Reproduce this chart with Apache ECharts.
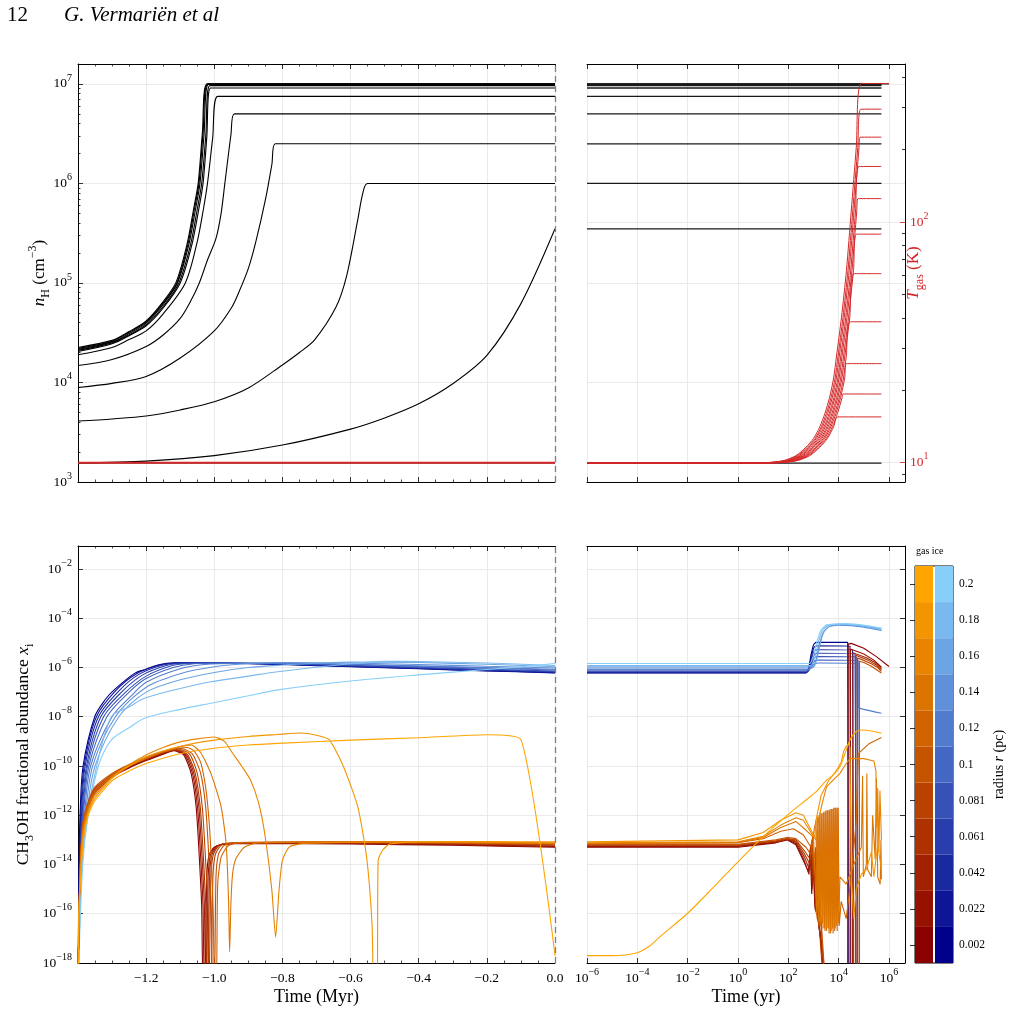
<!DOCTYPE html>
<html>
<head>
<meta charset="utf-8">
<script src="https://cdn.jsdelivr.net/npm/echarts@6/dist/echarts.min.js"></script>
<style>
  html, body { margin: 0; padding: 0; background: #fff; }
  #chart { width: 1012px; height: 1010px; }
</style>
</head>
<body>
<div id="chart"></div>
<script>
// ---- data ----
const radiusLabels = ['0.002', '0.022', '0.042', '0.061', '0.081', '0.1', '0.12', '0.14', '0.16', '0.18', '0.2'];
const gasColors = ['#8B0000', '#971100', '#A22100', '#AE3200', '#B94200', '#C55300', '#D16300', '#DC7400', '#E88400', '#F39500', '#FFA500'];
const iceColors = ['#00008B', '#0E1596', '#1B29A1', '#293EAC', '#3652B7', '#4467C3', '#517CCE', '#5F90D9', '#6CA5E4', '#7AB9EF', '#87CEFA'];

const myrTicks = [-1.2, -1.0, -0.8, -0.6, -0.4, -0.2, 0.0];
const yrTicks = [1e-6, 1e-4, 1e-2, 1, 1e2, 1e4, 1e6];
const nhTicks = [1e3, 1e4, 1e5, 1e6, 1e7];
const tempTicks = [10, 100];
const tempMinorTicks = [9, 20, 30, 40, 50, 60, 70, 80, 90, 200, 300, 400];
const abundTicks = [1e-18, 1e-16, 1e-14, 1e-12, 1e-10, 1e-8, 1e-6, 1e-4, 1e-2];

// density during collapse: [time (Myr), n_H (cm^-3)], one list per radius
const nhCollapse = [
  [[-1.4,2.25e4],[-1.3,2.65e4],[-1.25,3.25e4],[-1.2,4.15e4],[-1.15,6.5e4],[-1.112,1.02e5],[-1.08,2.45e5],[-1.06,5.7e5],[-1.047,1.02e6],[-1.035,3.2e6],[-1.021,1.0e7],[0,1.0e7]],
  [[-1.4,2.2e4],[-1.3,2.6e4],[-1.25,3.2e4],[-1.2,4.05e4],[-1.15,6.3e4],[-1.11,1.0e5],[-1.078,2.4e5],[-1.058,5.6e5],[-1.045,1.0e6],[-1.033,3.2e6],[-1.019,1.0e7],[0,1.0e7]],
  [[-1.4,2.15e4],[-1.3,2.55e4],[-1.25,3.1e4],[-1.2,3.95e4],[-1.15,6.1e4],[-1.108,1.0e5],[-1.075,2.4e5],[-1.055,5.5e5],[-1.042,1.0e6],[-1.03,3.1e6],[-1.017,9.9e6],[0,9.9e6]],
  [[-1.4,2.1e4],[-1.3,2.5e4],[-1.25,3.0e4],[-1.2,3.8e4],[-1.15,5.8e4],[-1.104,1.0e5],[-1.07,2.4e5],[-1.05,5.5e5],[-1.037,1.0e6],[-1.025,3.0e6],[-1.013,9.6e6],[0,9.6e6]],
  [[-1.4,2.05e4],[-1.3,2.45e4],[-1.25,2.95e4],[-1.2,3.7e4],[-1.15,5.6e4],[-1.1,1.0e5],[-1.066,2.4e5],[-1.046,5.4e5],[-1.033,1.0e6],[-1.022,2.9e6],[-1.011,9.1e6],[0,9.1e6]],
  [[-1.4,1.9e4],[-1.3,2.25e4],[-1.25,2.7e4],[-1.2,3.3e4],[-1.15,4.9e4],[-1.085,1.0e5],[-1.05,2.6e5],[-1.032,5.5e5],[-1.02,1.0e6],[-1.005,2.8e6],[-0.99,7.5e6],[0,7.5e6]],
  [[-1.4,1.48e4],[-1.3,1.7e4],[-1.2,2.3e4],[-1.15,3.0e4],[-1.1,4.4e4],[-1.07,6.5e4],[-1.044,1.0e5],[-1.02,1.7e5],[-0.995,2.8e5],[-0.98,5.0e5],[-0.969,1.0e6],[-0.951,3.1e6],[-0.941,5.0e6],[0,5.0e6]],
  [[-1.4,8.9e3],[-1.3,9.8e3],[-1.2,1.15e4],[-1.1,1.76e4],[-1.0,3.3e4],[-0.95,5.6e4],[-0.927,8.2e4],[-0.9,1.4e5],[-0.878,2.6e5],[-0.849,7.1e5],[-0.831,1.55e6],[-0.821,2.5e6],[0,2.5e6]],
  [[-1.4,4.1e3],[-1.3,4.3e3],[-1.2,4.6e3],[-1.1,5.3e3],[-1.0,6.4e3],[-0.9,8.8e3],[-0.8,1.5e4],[-0.75,2.0e4],[-0.705,2.7e4],[-0.642,5.8e4],[-0.611,1.2e5],[-0.579,4.3e5],[-0.564,8.0e5],[-0.55,1.0e6],[0,1.0e6]],
  [[-1.4,1.55e3],[-1.2,1.62e3],[-1.0,1.84e3],[-0.8,2.35e3],[-0.6,3.4e3],[-0.5,4.4e3],[-0.4,6.1e3],[-0.3,9.7e3],[-0.2,1.87e4],[-0.1,6.2e4],[0,3.5e5]],
  [[-1.4,1.55e3],[0,1.55e3]]
];
// density after t = 0 (held constant) and log10 of the last time of each run (yr)
const nhFinal = [1.0e7, 1.0e7, 9.9e6, 9.6e6, 9.1e6, 7.5e6, 5.0e6, 2.5e6, 1.0e6, 3.5e5, 1.55e3];
const runEnd = [6.0, 5.7, 5.7, 5.7, 5.7, 5.7, 5.7, 5.7, 5.7, 5.7, 5.7];

// gas temperature before t = 0: [time (Myr), T (K)]
const tempPrestellar = [[-1.4, 10], [0, 10]];
// gas temperature after t = 0: [log10 time (yr), T (K)]
const tempProto = [
  [[-6,10],[1.0,10],[1.8,10.2],[2.3,10.7],[2.7,11.6],[3.0,12.6],[3.25,14.1],[3.45,16],[3.64,18.7],[3.8,22.5],[3.91,27.5],[4.11,40],[4.31,63],[4.5,111],[4.7,204],[4.9,376],[6.0,376]],
  [[-6,10],[1.06,10],[1.86,10.2],[2.36,10.7],[2.76,11.6],[3.06,12.6],[3.31,14.1],[3.51,16],[3.7,18.7],[3.86,22.5],[3.97,27.5],[4.17,40],[4.37,63],[4.56,111],[4.76,204],[4.88,294],[5.7,294]],
  [[-6,10],[1.11,10],[1.91,10.2],[2.41,10.7],[2.81,11.6],[3.11,12.6],[3.36,14.1],[3.56,16],[3.75,18.7],[3.91,22.5],[4.02,27.5],[4.22,40],[4.42,63],[4.61,111],[4.81,204],[4.85,225],[5.7,225]],
  [[-6,10],[1.17,10],[1.97,10.2],[2.47,10.7],[2.87,11.6],[3.17,12.6],[3.42,14.1],[3.62,16],[3.81,18.7],[3.97,22.5],[4.08,27.5],[4.28,40],[4.48,63],[4.67,111],[4.81,170],[5.7,170]],
  [[-6,10],[1.22,10],[2.02,10.2],[2.52,10.7],[2.92,11.6],[3.22,12.6],[3.47,14.1],[3.67,16],[3.86,18.7],[4.02,22.5],[4.13,27.5],[4.33,40],[4.53,63],[4.72,111],[4.77,125],[5.7,125]],
  [[-6,10],[1.28,10],[2.08,10.2],[2.58,10.7],[2.98,11.6],[3.28,12.6],[3.53,14.1],[3.73,16],[3.92,18.7],[4.08,22.5],[4.19,27.5],[4.39,40],[4.59,63],[4.71,89],[5.7,89]],
  [[-6,10],[1.33,10],[2.13,10.2],[2.63,10.7],[3.03,11.6],[3.33,12.6],[3.58,14.1],[3.78,16],[3.97,18.7],[4.13,22.5],[4.24,27.5],[4.44,40],[4.62,61],[5.7,61]],
  [[-6,10],[1.39,10],[2.19,10.2],[2.69,10.7],[3.09,11.6],[3.39,12.6],[3.64,14.1],[3.84,16],[4.03,18.7],[4.19,22.5],[4.3,27.5],[4.47,38.5],[5.7,38.5]],
  [[-6,10],[1.44,10],[2.24,10.2],[2.74,10.7],[3.14,11.6],[3.44,12.6],[3.69,14.1],[3.89,16],[4.08,18.7],[4.24,22.5],[4.31,25.8],[5.7,25.8]],
  [[-6,10],[1.5,10],[2.3,10.2],[2.8,10.7],[3.2,11.6],[3.5,12.6],[3.75,14.1],[3.95,16],[4.14,18.7],[4.17,19.3],[5.7,19.3]],
  [[-6,10],[1.55,10],[2.35,10.2],[2.85,10.7],[3.25,11.6],[3.55,12.6],[3.8,14.1],[3.96,15.5],[5.7,15.5]]
];

// CH3OH ice before t = 0: [time (Myr), log10 abundance]
const iceCollapse = [
  [[-1.4,-19],[-1.397,-14],[-1.394,-12],[-1.385,-10],[-1.351,-8],[-1.32,-7.3],[-1.293,-6.9],[-1.234,-6.24],[-1.2,-6.07],[-1.166,-5.9],[-1.117,-5.81],[-1.0,-5.82],[-0.8,-5.88],[-0.6,-5.97],[-0.4,-6.05],[-0.2,-6.14],[0,-6.22]],
  [[-1.4,-19],[-1.396,-14],[-1.392,-12],[-1.382,-10],[-1.346,-8],[-1.288,-6.92],[-1.228,-6.25],[-1.16,-5.9],[-1.11,-5.82],[-1.0,-5.82],[-0.8,-5.87],[-0.6,-5.96],[-0.4,-6.04],[-0.2,-6.13],[0,-6.21]],
  [[-1.4,-19],[-1.395,-14],[-1.39,-12],[-1.379,-10],[-1.34,-8],[-1.28,-6.95],[-1.22,-6.27],[-1.15,-5.9],[-1.1,-5.82],[-1.0,-5.82],[-0.8,-5.86],[-0.6,-5.95],[-0.4,-6.03],[-0.2,-6.11],[0,-6.19]],
  [[-1.4,-19],[-1.394,-14],[-1.388,-12],[-1.375,-10],[-1.333,-8],[-1.27,-6.97],[-1.21,-6.3],[-1.14,-5.92],[-1.09,-5.83],[-1.0,-5.82],[-0.8,-5.85],[-0.6,-5.93],[-0.4,-6.01],[-0.2,-6.09],[0,-6.17]],
  [[-1.4,-19],[-1.393,-14],[-1.386,-12],[-1.372,-10],[-1.325,-8],[-1.26,-7.0],[-1.2,-6.35],[-1.13,-5.95],[-1.08,-5.84],[-1.0,-5.82],[-0.8,-5.84],[-0.6,-5.91],[-0.4,-5.99],[-0.2,-6.07],[0,-6.14]],
  [[-1.4,-19],[-1.392,-14],[-1.384,-12],[-1.368,-10],[-1.315,-8],[-1.25,-7.0],[-1.2,-6.45],[-1.12,-6.0],[-1.06,-5.85],[-1.0,-5.83],[-0.8,-5.83],[-0.6,-5.88],[-0.4,-5.96],[-0.2,-6.03],[0,-6.1]],
  [[-1.4,-19],[-1.391,-14],[-1.381,-12],[-1.363,-10],[-1.3,-8],[-1.24,-7.1],[-1.2,-6.6],[-1.1,-6.05],[-1.02,-5.87],[-0.9,-5.83],[-0.7,-5.84],[-0.5,-5.9],[-0.3,-5.97],[0,-6.07]],
  [[-1.4,-19],[-1.39,-14],[-1.378,-12],[-1.357,-10],[-1.29,-8],[-1.2,-6.8],[-1.1,-6.25],[-1.0,-5.97],[-0.9,-5.84],[-0.8,-5.8],[-0.6,-5.82],[-0.4,-5.88],[-0.2,-5.95],[0,-6.02]],
  [[-1.4,-19],[-1.389,-14],[-1.375,-12],[-1.35,-10],[-1.28,-8],[-1.2,-7.0],[-1.1,-6.5],[-1.0,-6.2],[-0.9,-6.0],[-0.8,-5.9],[-0.7,-5.83],[-0.6,-5.78],[-0.4,-5.8],[-0.2,-5.87],[0,-5.97]],
  [[-1.4,-19],[-1.388,-14],[-1.372,-12],[-1.345,-10],[-1.302,-8.0],[-1.25,-7.6],[-1.205,-7.25],[-1.1,-6.85],[-1.01,-6.58],[-0.9,-6.35],[-0.814,-6.17],[-0.6,-5.85],[-0.5,-5.75],[-0.4,-5.76],[-0.2,-5.82],[0,-5.92]],
  [[-1.4,-19],[-1.386,-14],[-1.37,-12],[-1.34,-10],[-1.302,-8.94],[-1.25,-8.45],[-1.205,-8.06],[-1.1,-7.7],[-1.01,-7.45],[-0.9,-7.15],[-0.814,-6.91],[-0.6,-6.55],[-0.4,-6.3],[-0.2,-6.08],[-0.1,-5.97],[0,-5.84]]
];

// CH3OH gas before t = 0: [time (Myr), log10 abundance]
const gasCollapse = [
  [[-1.4,-19],[-1.397,-16],[-1.393,-14],[-1.386,-12.6],[-1.37,-11.7],[-1.35,-11.1],[-1.3,-10.45],[-1.25,-10.08],[-1.2,-9.78],[-1.15,-9.52],[-1.12,-9.38],[-1.09,-9.55],[-1.068,-10.3],[-1.053,-11.7],[-1.044,-13.7],[-1.037,-15.7],[-1.033,-19],[-1.028,-19],[-1.022,-14.5],[-1.015,-13.6],[-1.0,-13.3],[-0.98,-13.2],[-0.9,-13.15],[-0.6,-13.17],[-0.3,-13.22],[0,-13.3]],
  [[-1.4,-19],[-1.397,-16],[-1.393,-14],[-1.386,-12.55],[-1.37,-11.65],[-1.35,-11.05],[-1.3,-10.42],[-1.25,-10.05],[-1.2,-9.75],[-1.15,-9.5],[-1.117,-9.36],[-1.086,-9.55],[-1.064,-10.3],[-1.049,-11.7],[-1.04,-13.7],[-1.033,-15.7],[-1.029,-19],[-1.024,-19],[-1.018,-14.5],[-1.011,-13.6],[-0.996,-13.28],[-0.976,-13.18],[-0.9,-13.14],[-0.6,-13.15],[-0.3,-13.2],[0,-13.27]],
  [[-1.4,-19],[-1.397,-16],[-1.393,-14],[-1.386,-12.5],[-1.37,-11.6],[-1.35,-11.0],[-1.3,-10.4],[-1.25,-10.03],[-1.2,-9.73],[-1.15,-9.48],[-1.114,-9.35],[-1.082,-9.55],[-1.06,-10.3],[-1.045,-11.7],[-1.036,-13.7],[-1.029,-15.7],[-1.025,-19],[-1.02,-19],[-1.014,-14.5],[-1.007,-13.6],[-0.992,-13.26],[-0.972,-13.16],[-0.9,-13.13],[-0.6,-13.14],[-0.3,-13.18],[0,-13.25]],
  [[-1.4,-19],[-1.397,-16],[-1.393,-14],[-1.386,-12.45],[-1.37,-11.55],[-1.35,-10.95],[-1.3,-10.37],[-1.25,-10.0],[-1.2,-9.7],[-1.15,-9.46],[-1.11,-9.33],[-1.078,-9.55],[-1.056,-10.3],[-1.041,-11.7],[-1.032,-13.7],[-1.025,-15.7],[-1.021,-19],[-1.016,-19],[-1.01,-14.5],[-1.003,-13.6],[-0.988,-13.25],[-0.968,-13.15],[-0.9,-13.12],[-0.6,-13.12],[-0.3,-13.16],[0,-13.22]],
  [[-1.4,-19],[-1.397,-16],[-1.393,-14],[-1.386,-12.4],[-1.37,-11.5],[-1.35,-10.9],[-1.3,-10.33],[-1.25,-9.97],[-1.2,-9.68],[-1.15,-9.44],[-1.105,-9.31],[-1.072,-9.52],[-1.05,-10.3],[-1.035,-11.7],[-1.026,-13.7],[-1.019,-15.7],[-1.015,-19],[-1.01,-19],[-1.004,-14.5],[-0.997,-13.6],[-0.982,-13.24],[-0.962,-13.14],[-0.9,-13.11],[-0.6,-13.1],[-0.3,-13.14],[0,-13.2]],
  [[-1.4,-19],[-1.397,-16],[-1.393,-14],[-1.386,-12.35],[-1.37,-11.45],[-1.35,-10.85],[-1.3,-10.3],[-1.25,-9.94],[-1.2,-9.65],[-1.15,-9.42],[-1.1,-9.28],[-1.065,-9.5],[-1.04,-10.3],[-1.025,-11.7],[-1.016,-13.7],[-1.009,-15.7],[-1.005,-19],[-1.0,-19],[-0.995,-14.5],[-0.988,-13.6],[-0.973,-13.24],[-0.953,-13.14],[-0.9,-13.1],[-0.6,-13.09],[-0.3,-13.12],[0,-13.18]],
  [[-1.4,-19],[-1.397,-16],[-1.393,-14.1],[-1.386,-12.5],[-1.37,-11.6],[-1.35,-11.0],[-1.3,-10.35],[-1.25,-9.98],[-1.2,-9.68],[-1.15,-9.43],[-1.1,-9.27],[-1.08,-9.25],[-1.06,-9.38],[-1.04,-9.85],[-1.025,-10.9],[-1.015,-12.3],[-1.008,-14],[-1.003,-16],[-0.999,-19],[-0.994,-19],[-0.99,-14.8],[-0.98,-13.7],[-0.96,-13.25],[-0.93,-13.12],[-0.6,-13.08],[-0.3,-13.1],[0,-13.15]],
  [[-1.4,-19],[-1.397,-16],[-1.393,-14],[-1.386,-12.6],[-1.37,-11.7],[-1.35,-11.1],[-1.3,-10.4],[-1.25,-10.0],[-1.2,-9.7],[-1.15,-9.42],[-1.1,-9.22],[-1.068,-9.15],[-1.04,-9.45],[-1.01,-10.3],[-0.98,-11.65],[-0.965,-13.2],[-0.958,-15.5],[-0.955,-17.54],[-0.951,-15.5],[-0.946,-14.35],[-0.936,-13.75],[-0.912,-13.3],[-0.873,-13.12],[-0.6,-13.08],[-0.3,-13.1],[0,-13.15]],
  [[-1.4,-19],[-1.397,-16],[-1.393,-14.2],[-1.386,-12.8],[-1.37,-11.8],[-1.35,-11.2],[-1.3,-10.45],[-1.25,-9.95],[-1.2,-9.55],[-1.15,-9.25],[-1.1,-9.02],[-1.05,-8.9],[-1.0,-8.82],[-0.97,-9.0],[-0.946,-9.48],[-0.92,-10.0],[-0.894,-10.56],[-0.87,-11.5],[-0.852,-12.74],[-0.831,-15.05],[-0.82,-16.95],[-0.81,-15.05],[-0.8,-13.83],[-0.779,-13.28],[-0.737,-13.15],[-0.5,-13.08],[-0.2,-13.1],[0,-13.12]],
  [[-1.4,-19],[-1.397,-16],[-1.392,-14.3],[-1.385,-12.9],[-1.37,-11.9],[-1.35,-11.3],[-1.3,-10.5],[-1.25,-10.0],[-1.2,-9.62],[-1.1,-9.2],[-1.0,-8.95],[-0.9,-8.8],[-0.814,-8.72],[-0.747,-8.66],[-0.7,-8.75],[-0.663,-8.93],[-0.621,-10.02],[-0.579,-11.65],[-0.553,-13.69],[-0.537,-16.41],[-0.532,-19],[-0.522,-19],[-0.519,-13.83],[-0.506,-13.42],[-0.485,-13.17],[-0.4,-13.08],[-0.2,-13.07],[0,-13.08]],
  [[-1.4,-19],[-1.397,-16],[-1.392,-14.5],[-1.384,-13],[-1.37,-12],[-1.35,-11.4],[-1.3,-10.6],[-1.25,-10.2],[-1.2,-9.9],[-1.1,-9.5],[-1.0,-9.28],[-0.9,-9.15],[-0.814,-9.08],[-0.6,-8.95],[-0.4,-8.85],[-0.2,-8.73],[-0.1,-8.93],[0,-17.7]]
];

// CH3OH ice after t = 0: [log10 time (yr), log10 abundance]
const iceProto = [
  [[-6,-6.22],[2.7,-6.22],[2.8,-6.05],[2.9,-5.5],[3.0,-5.08],[3.1,-4.98],[4.36,-4.98],[4.38,-19]],
  [[-6,-6.21],[2.72,-6.21],[2.82,-6.05],[2.92,-5.55],[3.02,-5.18],[3.12,-5.12],[4.45,-5.13],[4.48,-19]],
  [[-6,-6.19],[2.74,-6.19],[2.84,-6.05],[2.94,-5.6],[3.04,-5.32],[3.14,-5.28],[4.55,-5.3],[4.58,-19]],
  [[-6,-6.17],[2.76,-6.17],[2.86,-6.03],[2.96,-5.65],[3.06,-5.44],[3.16,-5.42],[4.65,-5.44],[4.69,-19]],
  [[-6,-6.14],[2.78,-6.14],[2.88,-6.0],[2.98,-5.7],[3.08,-5.57],[3.18,-5.56],[4.72,-5.58],[4.75,-19]],
  [[-6,-6.1],[2.8,-6.1],[2.9,-5.98],[3.0,-5.78],[3.1,-5.71],[3.2,-5.7],[4.8,-5.72],[4.83,-19]],
  [[-6,-6.07],[2.85,-6.07],[2.95,-5.95],[3.05,-5.85],[3.2,-5.82],[4.76,-5.84],[4.78,-7.62],[5.0,-7.7],[5.7,-7.86]],
  [[-6,-6.02],[2.95,-6.02],[3.1,-5.7],[3.25,-5.0],[3.4,-4.55],[3.6,-4.35],[4.0,-4.28],[4.5,-4.3],[5.0,-4.36],[5.7,-4.5]],
  [[-6,-5.97],[3.0,-5.97],[3.15,-5.6],[3.3,-4.9],[3.45,-4.5],[3.65,-4.32],[4.1,-4.25],[4.6,-4.28],[5.1,-4.34],[5.7,-4.46]],
  [[-6,-5.92],[2.9,-5.92],[3.05,-5.6],[3.2,-4.95],[3.35,-4.5],[3.55,-4.3],[4.1,-4.23],[4.6,-4.26],[5.1,-4.32],[5.7,-4.43]],
  [[-6,-5.84],[2.85,-5.84],[3.0,-5.5],[3.15,-4.9],[3.3,-4.48],[3.5,-4.28],[4.1,-4.22],[4.6,-4.24],[5.1,-4.3],[5.7,-4.4]]
];

// CH3OH gas after t = 0: [log10 time (yr), log10 abundance]
const gasProto = [
  [[-6,-13.3],[0,-13.3],[1.5,-13.12],[1.95,-13.0],[2.3,-13.2],[2.6,-13.85],[2.8,-14.3],[2.87,-13.4],[2.93,-15.2],[2.99,-13.8],[3.05,-15.6],[3.15,-16.0],[3.3,-17.2],[3.45,-19],[4.36,-19],[4.38,-5.05],[4.5,-5.02],[5.0,-5.22],[5.5,-5.56],[6.0,-5.96]],
  [[-6,-13.27],[0,-13.27],[1.5,-13.1],[1.95,-12.98],[2.3,-13.15],[2.62,-13.8],[2.82,-14.4],[2.88,-13.3],[2.94,-15.0],[3.0,-14.0],[3.06,-15.8],[3.2,-16.2],[3.35,-17.5],[3.5,-19],[4.45,-19],[4.47,-5.25],[4.6,-5.3],[5.0,-5.45],[5.4,-5.7],[5.7,-5.99]],
  [[-6,-13.25],[0,-13.25],[1.5,-13.08],[1.95,-12.97],[2.3,-13.1],[2.64,-13.7],[2.84,-14.2],[2.9,-13.2],[2.96,-14.8],[3.02,-13.9],[3.08,-15.5],[3.22,-16.5],[3.38,-17.8],[3.52,-19],[4.55,-19],[4.57,-5.4],[4.7,-5.45],[5.1,-5.6],[5.45,-5.8],[5.7,-6.05]],
  [[-6,-13.22],[0,-13.22],[1.5,-13.06],[1.95,-12.96],[2.3,-13.05],[2.66,-13.6],[2.86,-14.0],[2.92,-13.1],[2.98,-14.6],[3.04,-13.7],[3.1,-15.3],[3.25,-16.8],[3.4,-19],[4.66,-19],[4.68,-5.5],[4.8,-5.55],[5.2,-5.72],[5.5,-5.9],[5.7,-6.1]],
  [[-6,-13.2],[0,-13.2],[1.5,-13.04],[1.95,-12.95],[2.3,-13.0],[2.68,-13.5],[2.88,-13.8],[2.94,-13.0],[3.0,-14.4],[3.06,-13.5],[3.12,-15.0],[3.3,-16.5],[3.45,-19],[4.73,-19],[4.75,-5.62],[4.9,-5.67],[5.3,-5.85],[5.55,-6.0],[5.7,-6.16]],
  [[-6,-13.18],[0,-13.18],[1.5,-13.0],[1.95,-12.9],[2.3,-12.95],[2.7,-13.3],[2.9,-13.6],[2.96,-12.9],[3.02,-14.2],[3.08,-13.3],[3.14,-14.8],[3.3,-16.2],[3.48,-19],[4.81,-19],[4.83,-5.75],[5.0,-5.8],[5.3,-5.95],[5.7,-6.22]],
  [[-6,-13.15],[0,-13.12],[1.0,-12.95],[1.7,-12.65],[2.2,-12.55],[2.6,-12.8],[2.9,-13.3],[3.1,-12.2],[3.14,-16.2],[3.18,-12.0],[3.22,-16.5],[3.26,-11.9],[3.3,-16.4],[3.34,-11.9],[3.38,-16.6],[3.42,-11.85],[3.46,-16.7],[3.5,-11.8],[3.54,-16.6],[3.58,-11.8],[3.62,-16.8],[3.66,-11.75],[3.7,-16.7],[3.74,-11.75],[3.78,-16.8],[3.82,-11.7],[3.86,-16.6],[3.9,-11.7],[3.94,-16.7],[3.98,-11.7],[4.02,-16.5],[4.1,-15.5],[4.3,-16.2],[4.5,-14.5],[4.7,-12.2],[4.78,-9.5],[5.2,-9.1],[5.7,-8.84]],
  [[-6,-13.15],[0,-13.1],[1.0,-12.9],[1.7,-12.5],[2.3,-12.25],[2.7,-12.6],[3.0,-12.9],[3.12,-16.0],[3.16,-12.1],[3.2,-16.3],[3.24,-12.0],[3.28,-16.5],[3.32,-11.95],[3.36,-16.4],[3.4,-11.9],[3.44,-16.6],[3.48,-11.85],[3.52,-16.7],[3.56,-11.8],[3.6,-16.6],[3.64,-11.8],[3.68,-16.8],[3.72,-11.75],[3.76,-16.6],[3.8,-11.7],[3.84,-16.7],[3.88,-11.7],[3.92,-16.5],[3.96,-11.7],[4.0,-16.4],[4.05,-14.5],[4.3,-14.8],[4.6,-14.0],[4.9,-13.3],[4.95,-10.4],[4.98,-14.5],[5.1,-14.0],[5.12,-10.3],[5.15,-14.2],[5.3,-14.5],[5.35,-12.0],[5.45,-13.8],[5.5,-10.5],[5.55,-14.5],[5.65,-14.8],[5.68,-13.0],[5.7,-14.6]],
  [[-6,-13.12],[0,-13.08],[1.0,-12.85],[1.7,-12.4],[2.3,-12.1],[2.6,-12.2],[2.9,-12.7],[3.1,-13.0],[3.2,-12.2],[3.35,-11.5],[3.52,-10.84],[3.8,-10.55],[4.05,-10.3],[4.3,-9.9],[4.45,-9.69],[5.0,-9.7],[5.4,-9.8],[5.48,-10.2],[5.52,-12.5],[5.55,-10.9],[5.6,-13.5],[5.64,-11.0],[5.7,-13.0]],
  [[-6,-13.08],[0,-13.0],[1.0,-12.7],[1.7,-12.2],[2.3,-11.9],[2.6,-12.0],[2.9,-12.6],[3.05,-12.9],[3.1,-12.2],[3.3,-11.2],[3.6,-10.6],[3.9,-10.2],[4.1,-9.85],[4.2,-9.4],[4.3,-9.2],[4.4,-9.1],[4.45,-9.25],[4.5,-14.5],[4.6,-16.2],[4.7,-15.0],[4.9,-14.4],[5.1,-14.2],[5.3,-13.5],[5.4,-14.5],[5.55,-13.2],[5.7,-14.2]],
  [[-6,-17.7],[-5,-17.7],[-4.0,-17.58],[-3.5,-17.3],[-3.1,-16.93],[-2.0,-15.98],[-1.0,-14.95],[0,-13.89],[0.87,-13.0],[1.66,-12.26],[2.2,-11.79],[2.46,-11.58],[2.8,-11.3],[3.1,-11.05],[3.52,-10.57],[3.8,-10.35],[4.05,-10.03],[4.25,-9.5],[4.45,-8.94],[4.65,-8.65],[4.85,-8.54],[5.3,-8.58],[5.7,-8.67]]
];

// ---- axis extents ----
const myrRange = [-1.4, 0];
const yrRange = [1e-6, Math.pow(10, 6.636)];
const nhRange = [1e3, Math.pow(10, 7.2)];
const tempRange = [Math.pow(10, 0.92), Math.pow(10, 2.656)];
const abundRange = [1e-18, Math.pow(10, -1.066)];

const FONT = 'Liberation Serif';
const RED = '#d62728';

const nhMinorTicks = [];
for (let d = 3; d <= 7; d++) {
  for (let k = 2; k <= 9; k++) {
    const v = k * Math.pow(10, d);
    if (v < nhRange[1]) nhMinorTicks.push(v);
  }
}

// ---- helpers ----
function logLabel(v) {
  const e = Math.round(Math.log10(v));
  return '{b|10}{s|' + (e < 0 ? '\u2212' + (-e) : String(e)) + '}';
}
function logRich(color) {
  return {
    b: { fontFamily: FONT, fontSize: 13.5, lineHeight: 22, color: color },
    s: { fontFamily: FONT, fontSize: 10, lineHeight: 10, verticalAlign: 'top', color: color }
  };
}
function nameRich(size, color) {
  const small = Math.round(size * 0.7);
  return {
    t: { fontFamily: FONT, fontSize: size, lineHeight: size + 8, color: color },
    it: { fontFamily: FONT, fontStyle: 'italic', fontSize: size, lineHeight: size + 8, color: color },
    sub: { fontFamily: FONT, fontSize: small, lineHeight: small, verticalAlign: 'bottom', color: color },
    sup: { fontFamily: FONT, fontSize: small, lineHeight: small, verticalAlign: 'top', color: color }
  };
}
const spine = { show: true, onZero: false, lineStyle: { color: '#000', width: 1 } };
const noSpine = { show: false, onZero: false };
function ticks(len, values, color) {
  const t = { show: true, inside: true, length: len, lineStyle: { color: color || '#000', width: 0.8 } };
  if (values) t.customValues = values;
  return t;
}
const gridLines = { show: true, lineStyle: { color: '#e4e4e4', width: 0.8 } };
const noGrid = { show: false };

function myrAxis(grid, pos, labels) {
  return {
    type: 'value', gridIndex: grid, position: pos, min: myrRange[0], max: myrRange[1], interval: 0.2,
    axisLine: spine, axisTick: ticks(5),
    minorTick: { show: true, splitNumber: 4, length: 2.5, lineStyle: { color: '#000', width: 0.7 } },
    splitLine: pos === 'bottom' ? gridLines : noGrid,
    axisLabel: labels ? {
      show: true, showMinLabel: false, fontFamily: FONT, fontSize: 13.5, color: '#000', margin: 8,
      formatter: v => (Math.abs(v) < 1e-9 ? '0.0' : v.toFixed(1).replace('-', '\u2212'))
    } : { show: false },
    name: labels ? 'Time (Myr)' : '', nameLocation: 'middle', nameGap: 25, nameMoveOverlap: false,
    nameTextStyle: { fontFamily: FONT, fontSize: 18, color: '#000' }
  };
}
function yrAxis(grid, pos, labels) {
  return {
    type: 'log', logBase: 10, gridIndex: grid, position: pos, min: yrRange[0], max: yrRange[1],
    axisLine: spine, axisTick: ticks(5, yrTicks), minorTick: { show: false },
    splitLine: pos === 'bottom' ? gridLines : noGrid,
    axisLabel: labels ? { show: true, customValues: yrTicks, formatter: logLabel, rich: logRich('#000'), margin: 4 } : { show: false },
    name: labels ? 'Time (yr)' : '', nameLocation: 'middle', nameGap: 25, nameMoveOverlap: false,
    nameTextStyle: { fontFamily: FONT, fontSize: 18, color: '#000' }
  };
}

const xAxes = [
  myrAxis(0, 'bottom', false), myrAxis(0, 'top', false),
  yrAxis(1, 'bottom', false), yrAxis(1, 'top', false),
  myrAxis(2, 'bottom', true), myrAxis(2, 'top', false),
  yrAxis(3, 'bottom', true), yrAxis(3, 'top', false),
  { type: 'value', gridIndex: 4, min: 0, max: 2, show: false }
];

const yAxes = [
  { // 0: n_H, top-left
    type: 'log', gridIndex: 0, position: 'left', min: nhRange[0], max: nhRange[1],
    axisLine: spine, axisTick: ticks(5, nhTicks), splitLine: gridLines,
    axisLabel: { show: true, customValues: nhTicks, formatter: logLabel, rich: logRich('#000'), margin: 6 },
    name: '{it|n}{sub|H}{t| (cm}{sup|\u22123}{t|)}', nameLocation: 'middle', nameRotate: 90, nameGap: 26,
    nameMoveOverlap: false, nameTextStyle: { rich: nameRich(17, '#000') }
  },
  { // 1: n_H minor ticks
    type: 'log', gridIndex: 0, position: 'left', min: nhRange[0], max: nhRange[1],
    axisLine: noSpine, axisTick: ticks(2.5, nhMinorTicks), axisLabel: { show: false }, splitLine: noGrid
  },
  { // 2: T, top-left (hidden)
    type: 'log', gridIndex: 0, position: 'right', min: tempRange[0], max: tempRange[1], show: false
  },
  { // 3: n_H, top-right (hidden, grid lines only)
    type: 'log', gridIndex: 1, position: 'left', min: nhRange[0], max: nhRange[1],
    axisLine: noSpine, axisTick: { show: false, customValues: nhTicks }, axisLabel: { show: false }, splitLine: gridLines
  },
  { // 4: T, top-right
    type: 'log', gridIndex: 1, position: 'right', min: tempRange[0], max: tempRange[1],
    axisLine: spine, axisTick: ticks(5, tempTicks, RED), splitLine: gridLines,
    axisLabel: { show: true, customValues: tempTicks, formatter: logLabel, rich: logRich(RED), margin: 5 },
    name: '{it|T}{sub|gas}{t| (K)}', nameLocation: 'middle', nameRotate: 90, nameGap: -4,
    nameMoveOverlap: false, nameTextStyle: { rich: nameRich(17, RED) }
  },
  { // 5: T minor ticks
    type: 'log', gridIndex: 1, position: 'right', min: tempRange[0], max: tempRange[1],
    axisLine: noSpine, axisTick: ticks(3, tempMinorTicks), axisLabel: { show: false }, splitLine: noGrid
  },
  { // 6: abundance, bottom-left
    type: 'log', gridIndex: 2, position: 'left', min: abundRange[0], max: abundRange[1],
    axisLine: spine, axisTick: ticks(5, abundTicks), splitLine: gridLines,
    axisLabel: { show: true, customValues: abundTicks, formatter: logLabel, rich: logRich('#000'), margin: 6 },
    name: '{t|CH}{sub|3}{t|OH fractional abundance }{it|x}{sub|i}', nameLocation: 'middle', nameRotate: 90, nameGap: 42,
    nameMoveOverlap: false, nameTextStyle: { rich: nameRich(17.5, '#000') }
  },
  { // 7: abundance, bottom-right
    type: 'log', gridIndex: 3, position: 'right', min: abundRange[0], max: abundRange[1],
    axisLine: spine, axisTick: ticks(5, abundTicks), splitLine: gridLines, axisLabel: { show: false }
  },
  { // 8: colour bar
    type: 'category', gridIndex: 4, position: 'right', data: radiusLabels, boundaryGap: true,
    axisLine: { show: false },
    axisTick: { show: true, inside: true, alignWithLabel: true, length: 5, lineStyle: { color: '#000', width: 0.8 } },
    axisLabel: { show: true, fontFamily: FONT, fontSize: 11.5, color: '#000', margin: 6 },
    splitLine: noGrid,
    name: '{t|radius }{it|r}{t| (pc)}', nameLocation: 'middle', nameRotate: 90, nameGap: 35,
    nameMoveOverlap: false, nameTextStyle: { rich: nameRich(14, '#000') }
  }
];

// ---- series ----
const series = [];
function addLine(xi, yi, data, color, width, smooth, extra) {
  series.push(Object.assign({
    type: 'line', xAxisIndex: xi, yAxisIndex: yi, data: data,
    symbol: 'none', showSymbol: false, silent: true, animation: false,
    smooth: smooth || false,
    lineStyle: { color: color, width: width }, emphasis: { disabled: true }
  }, extra || {}));
}
function dashedAt(x) {
  return {
    markLine: {
      symbol: ['none', 'none'], silent: true, animation: false, label: { show: false },
      lineStyle: { color: '#7f7f7f', type: [6, 4], width: 1.3 }, data: [{ xAxis: x }]
    }
  };
}

// top-left: density during collapse + constant temperature
nhCollapse.forEach((pts, i) => addLine(0, 0, pts, '#000', 1.1, 0.3, i === 0 ? dashedAt(0) : null));
addLine(0, 2, tempPrestellar, RED, 2);

// top-right: density held constant + temperature rise
nhFinal.forEach((n, i) => addLine(2, 3, [[yrRange[0], n], [Math.pow(10, runEnd[i]), n]], '#1a1a1a', 1.3, false,
  i === 0 ? dashedAt(yrRange[0]) : null));
tempProto.forEach(pts => addLine(2, 4, pts.map(p => [Math.pow(10, p[0]), p[1]]), RED, 1, 0.25));

// bottom-left
iceCollapse.forEach((pts, i) => addLine(4, 6, pts.map(p => [p[0], Math.pow(10, p[1])]), iceColors[i], 1.1, 0.3,
  i === 0 ? dashedAt(0) : null));
gasCollapse.forEach((pts, i) => addLine(4, 6, pts.map(p => [p[0], Math.pow(10, p[1])]), gasColors[i], 1.1, 0.2));

// bottom-right
iceProto.forEach((pts, i) => addLine(6, 7, pts.map(p => [Math.pow(10, p[0]), Math.pow(10, p[1])]), iceColors[i], 1.1, 0.15,
  i === 0 ? dashedAt(yrRange[0]) : null));
gasProto.forEach((pts, i) => addLine(6, 7, pts.map(p => [Math.pow(10, p[0]), Math.pow(10, p[1])]), gasColors[i], 1.1,
  i === gasProto.length - 1 ? 0.3 : false));

// colour bar
const barCells = [];
radiusLabels.forEach((r, i) => { barCells.push([0, i]); barCells.push([1, i]); });
series.push({
  type: 'custom', xAxisIndex: 8, yAxisIndex: 8, data: barCells, silent: true, animation: false,
  renderItem: (params, api) => {
    const col = api.value(0), idx = api.value(1);
    const a = api.coord([col, idx]);
    const b = api.coord([col + 1, idx]);
    const h = api.size([0, 1])[1];
    return {
      type: 'rect',
      shape: { x: a[0] + (col === 1 ? 1 : 0), y: a[1] - h / 2, width: b[0] - a[0] - 1, height: h },
      style: { fill: (col === 0 ? gasColors : iceColors)[idx] }
    };
  }
});

const chart = echarts.init(document.getElementById('chart'), null, { renderer: 'canvas' });
chart.setOption({
  animation: false,
  backgroundColor: '#fff',
  grid: [
    { left: 78, top: 64, width: 477, height: 418, outerBoundsMode: 'none' },
    { left: 587, top: 64, width: 318, height: 418, outerBoundsMode: 'none' },
    { left: 78, top: 546, width: 477, height: 417, outerBoundsMode: 'none' },
    { left: 587, top: 546, width: 318, height: 417, outerBoundsMode: 'none' },
    { left: 915, top: 566, width: 38, height: 397, show: true, borderColor: '#000', borderWidth: 1,
      backgroundColor: 'transparent', outerBoundsMode: 'none' }
  ],
  xAxis: xAxes,
  yAxis: yAxes,
  series: series,
  graphic: [
    { type: 'text', left: 7, top: 5, style: { text: '12', font: '21px "Liberation Serif"', fill: '#000' } },
    { type: 'text', left: 64, top: 5, style: { text: 'G. Vermari\u00ebn et al', font: 'italic 21px "Liberation Serif"', fill: '#000' } },
    { type: 'text', left: 916, top: 546, style: { text: 'gas ice', font: '10px "Liberation Serif"', fill: '#000' } }
  ]
});
</script>
</body>
</html>
